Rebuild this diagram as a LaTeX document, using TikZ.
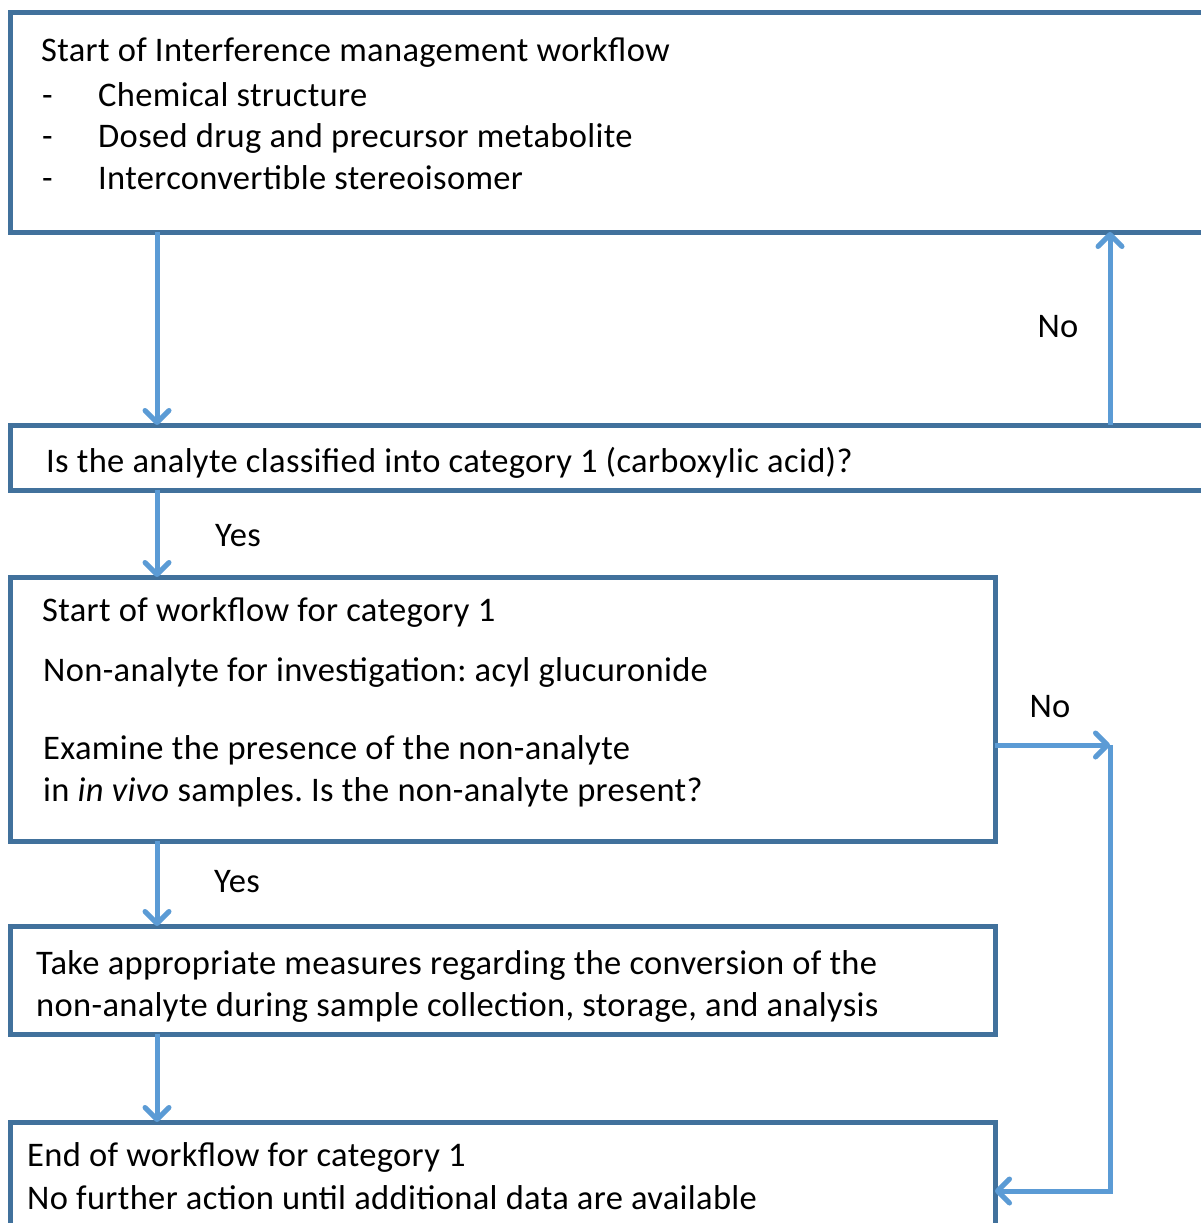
\documentclass[tikz,border=0pt]{standalone}
\usepackage{fontspec}
\setmainfont[LetterSpace=1.0]{Carlito}
\usetikzlibrary{arrows.meta}
\definecolor{boxline}{HTML}{41719C}
\definecolor{flowline}{HTML}{5B9BD5}
\frenchspacing
\begin{document}
\begin{tikzpicture}[x=1pt,y=-1pt,
  stepbox/.style={draw=boxline,line width=5pt,rectangle,inner sep=0pt,outer sep=0pt,anchor=north west},
  flow/.style={draw=flowline,line width=5pt,-{Straight Barb[length=12pt,width=24pt,line cap=round,line join=round]}},
  txt/.style={anchor=base west,inner sep=0pt,font=\fontsize{34.5}{42}\selectfont},
  lbl/.style={anchor=base,inner sep=0pt,font=\fontsize{34.5}{42}\selectfont}]
\useasboundingbox (0,0) rectangle (1201,1223);
\clip (0,0) rectangle (1201,1223);
\fill[white] (0,0) rectangle (1201,1223);

% boxes
\node[stepbox,minimum width=1240pt,minimum height=219pt] (b1) at (10,13) {};
\node[stepbox,minimum width=1240pt,minimum height=65pt] (b2) at (10,425) {};
\node[stepbox,minimum width=985pt,minimum height=264pt] (b3) at (10,577) {};
\node[stepbox,minimum width=985pt,minimum height=108pt] (b4) at (10,926) {};
\node[stepbox,minimum width=985pt,minimum height=160pt] (b5) at (10,1122) {};

% texts
\node[txt] (t1a) at (41,62) {Start of Interference management workflow};
\node[txt] (t1b) at (42,106) {-};
\node[txt] (t1c) at (98,106) {Chemical structure};
\node[txt] (t1d) at (42,147) {-};
\node[txt] (t1e) at (98,147) {Dosed drug and precursor metabolite};
\node[txt] (t1f) at (42,189) {-};
\node[txt] (t1g) at (98,189) {Interconvertible stereoisomer};

\node[txt] (t2) at (46,472) {Is the analyte classified into category 1 (carboxylic acid)?};

\node[txt] (t3a) at (42,621) {Start of workflow for category 1};
\node[txt] (t3b) at (43,681) {Non-analyte for investigation: acyl glucuronide};
\node[txt] (t3c) at (43,759) {Examine the presence of the non-analyte};
\node[txt] (t3d) at (43,801) {in \textit{in vivo} samples. Is the non-analyte present?};

\node[txt] (t4a) at (36,974) {Take appropriate measures regarding the conversion of the};
\node[txt] (t4b) at (36,1016) {non-analyte during sample collection, storage, and analysis};

\node[txt] (t5a) at (27,1166) {End of workflow for category 1};
\node[txt] (t5b) at (27,1209) {No further action until additional data are available};

% branch labels
\node[lbl] (no1) at (1058,337) {No};
\node[lbl] (yes1) at (238,546) {Yes};
\node[lbl] (no2) at (1050,717) {No};
\node[lbl] (yes2) at (237,892) {Yes};

% connector guide columns
\coordinate (cl) at (157,0);
\coordinate (cr) at (1110,0);
\coordinate (ny) at (0,745);
\coordinate (ey) at (0,1191);

% main flow
\draw[flow] (b1.south -| cl) -- (b2.north -| cl);
\draw[flow] (b2.south -| cl) -- (b3.north -| cl);
\draw[flow] (b3.south -| cl) -- (b4.north -| cl);
\draw[flow] (b4.south -| cl) -- (b5.north -| cl);

% "No" branches
\draw[flow] (b2.north -| cr) -- (b1.south -| cr);
\draw[flow] (b3.east |- ny) -- (cr |- ny);
\draw[flow] (cr |- ny) -- (cr |- ey) -- (b5.east |- ey);
\end{tikzpicture}
\end{document}
